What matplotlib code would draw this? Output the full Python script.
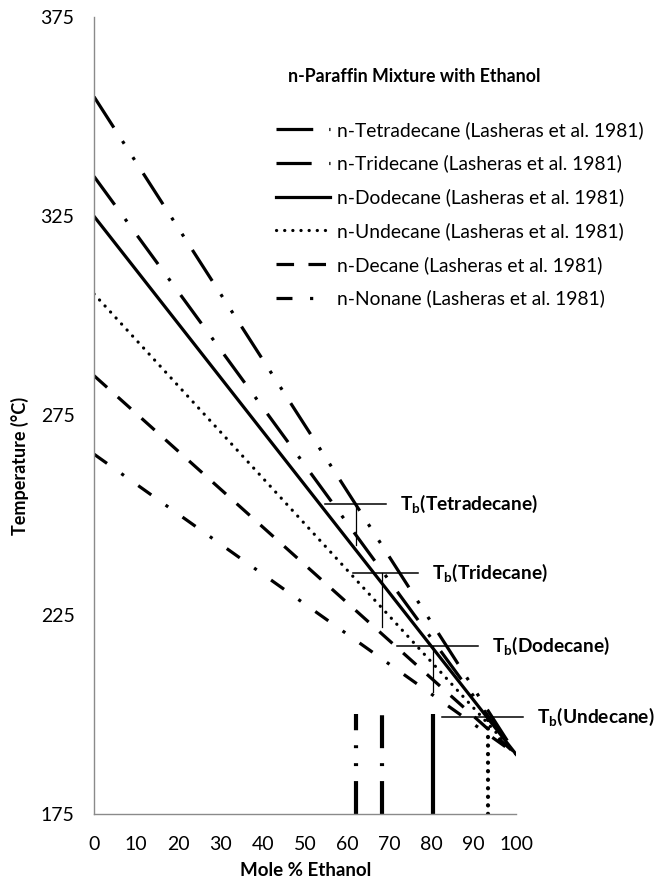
import numpy as np
import matplotlib.pyplot as plt

plt.rcParams['font.family'] = ['Lato', 'DejaVu Sans']
plt.rcParams['mathtext.fontset'] = 'custom'
plt.rcParams['mathtext.rm'] = 'Lato'
plt.rcParams['mathtext.bf'] = 'Lato:bold'

# straight-line fits, mole % ethanol 0 -> 100
mole_pct = [0, 100]
names = ['n-Tetradecane', 'n-Tridecane', 'n-Dodecane', 'n-Undecane', 'n-Decane', 'n-Nonane']
t_start = [355, 335, 325, 305.5, 285, 265.3]
t_end = [190, 190, 190, 190, 190, 190]

# boiling points marked on the chart
tb_names = ['Tetradecane', 'Tridecane', 'Dodecane', 'Undecane']
tb_temp = [252.8, 235.5, 217.2, 199.3]
tb_x = [62.1, 68.3, 80.3, 93.3]
tb_span = [(54.7, 69.2), (61.4, 76.8), (71.8, 91.0), (82.5, 101.7)]
tb_drop = [242.5, 221.9, 205.6, None]
bar_top = [200, 200, 200, 199.3]

styles = [
    (0, (11.5, 5, 1, 5, 1, 5)),
    (0, (11, 5.5, 1, 5.5)),
    '-',
    (0, (0.05, 2.5)),
    (0, (5.5, 4.5)),
    (0, (5, 5.5, 1, 5.5)),
]
bar_styles = [
    (0, (7.9, 3.6, 0.7, 3.6, 0.7, 3.6)),
    (0, (7.9, 3.6, 0.7, 3.6)),
    '-',
    (0, (0.05, 2.0)),
]

fig = plt.figure(figsize=(6.58, 8.82), dpi=100)
ax = fig.add_axes([94/658, 1-814/882, (516-94)/658, (814-17)/882])

for i in range(len(names)):
    cap = 'round' if names[i] == 'n-Undecane' else 'butt'
    ax.plot(mole_pct, [t_start[i], t_end[i]], color='black', lw=2.3,
            linestyle=styles[i], dash_capstyle=cap,
            label=names[i] + ' (Lasheras et al. 1981)')

for i in range(len(tb_names)):
    ax.plot(tb_span[i], [tb_temp[i], tb_temp[i]], color='black', lw=1.1, clip_on=False)
    if tb_drop[i] is not None:
        ax.plot([tb_x[i], tb_x[i]], [tb_temp[i], tb_drop[i]], color='black', lw=0.9)
    cap = 'round' if tb_names[i] == 'Undecane' else 'butt'
    ax.plot([tb_x[i], tb_x[i]], [175, bar_top[i]], color='black', lw=3.0,
            linestyle=bar_styles[i], solid_capstyle='butt', dash_capstyle=cap)
    ax.text(tb_span[i][1] + 3.3, tb_temp[i], r'T$_\mathbf{b}$(' + tb_names[i] + ')',
            fontsize=13.8, fontweight='bold', va='center', ha='left')

ax.set_xlim(0, 100)
ax.set_ylim(175, 375)
ax.set_xticks(np.arange(0, 101, 10))
ax.set_yticks([175, 225, 275, 325, 375])
ax.tick_params(length=0, labelsize=14)
ax.tick_params(axis='x', pad=16)
ax.tick_params(axis='y', pad=14)
for s in ['top', 'right']:
    ax.spines[s].set_visible(False)
for s in ['left', 'bottom']:
    ax.spines[s].set_color('#8a8a8a')
    ax.spines[s].set_linewidth(1.0)

fig.text(20/658, 1-466/882, 'Temperature (°C)', rotation=90, fontsize=13,
         fontweight='bold', ha='center', va='center')
fig.text(306/658, 1-871/882, 'Mole % Ethanol', fontsize=13.5,
         fontweight='bold', ha='center', va='center')
fig.text(288/658, 1-77/882, 'n-Paraffin Mixture with Ethanol', fontsize=12.8,
         fontweight='bold', ha='left', va='center')

ax.legend(loc='upper left', bbox_to_anchor=(276/658, 1-121/882),
          bbox_transform=fig.transFigure, frameon=False, fontsize=13.9,
          handlelength=2.8, handletextpad=0.36, labelspacing=0.82,
          borderpad=0, borderaxespad=0)

fig.savefig('out.png', dpi=100)
